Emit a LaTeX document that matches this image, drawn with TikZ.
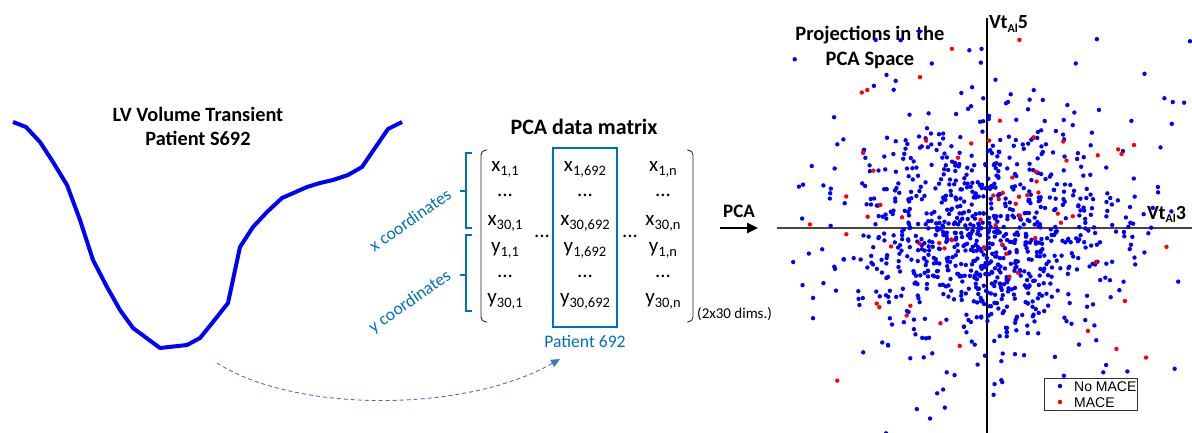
\documentclass[tikz,border=0pt]{standalone}
\usepackage{fontspec}
\setmainfont{Carlito}
\newfontfamily\legfont{Liberation Sans}
\usetikzlibrary{arrows.meta}
\definecolor{curveblue}{RGB}{0,0,255}
\definecolor{mblue}{RGB}{0,112,192}
\definecolor{dashblue}{RGB}{68,114,196}
\definecolor{axgray}{RGB}{70,70,70}
\newcommand{\sbs}[1]{\raisebox{-0.4ex}{\fontsize{14.5}{14.5}\selectfont #1}}
\newcommand{\asub}[1]{\raisebox{-0.4ex}{\fontsize{12}{12}\selectfont #1}}
\tikzset{
  entry/.style={inner sep=0pt, font=\fontsize{21}{21}\selectfont},
  titletext/.style={align=center, font=\bfseries\fontsize{20.3}{24}\selectfont},
  bluelabel/.style={text=mblue, font=\fontsize{17.6}{17.6}\selectfont, inner sep=0pt},
  paren/.style={draw=black!85, line width=0.9pt, rounded corners=5pt},
  brace/.style={draw=mblue, line width=1.1pt},
  bdot/.style={fill=curveblue},
  rdot/.style={fill=red},
  legtext/.style={anchor=west, inner sep=0pt, font=\legfont\fontsize{14}{14}\selectfont},
}
\begin{document}
\begin{tikzpicture}[x=1pt,y=-1pt]
\useasboundingbox (0,0) rectangle (1192,433);
% ---- LV curve
\draw[curveblue, line width=4pt, line join=round]
 (13,122) -- (26,127) -- (40,142) -- (53,162) -- (67,185) -- (80,220) -- (93,260)
 -- (107,287) -- (120,310) -- (133,328) -- (160,348) -- (187,345) -- (200,338)
 -- (213,322) -- (228,303) -- (240,247) -- (253,227) -- (267,212) -- (282,198)
 -- (307,187) -- (320,183) -- (333,180) -- (348,175) -- (362,167) -- (375,148)
 -- (388,129) -- (402,122);
\node[titletext] (lvtitle) at (198,126) {LV Volume Transient\\Patient S692};
% ---- matrix
\node[titletext, font=\bfseries\fontsize{22}{22}\selectfont] (mtitle) at (584,127) {PCA data matrix};
\draw[paren] (487,150) -- (481,150) -- (481,322) -- (487,322);
\draw[paren] (687,150) -- (693,150) -- (693,322) -- (687,322);
\node[entry] (a1) at (505,169) {x\sbs{1,1}};
\node[entry] (a2) at (505,195) {...};
\node[entry] (a3) at (505,223) {x\sbs{30,1}};
\node[entry] (a4) at (505,250) {y\sbs{1,1}};
\node[entry] (a5) at (505,276) {...};
\node[entry] (a6) at (505,301) {y\sbs{30,1}};
\node[entry] (b1) at (585,169) {x\sbs{1,692}};
\node[entry] (b2) at (585,195) {...};
\node[entry] (b3) at (585,223) {x\sbs{30,692}};
\node[entry] (b4) at (585,250) {y\sbs{1,692}};
\node[entry] (b5) at (585,276) {...};
\node[entry] (b6) at (585,301) {y\sbs{30,692}};
\node[entry] (c1) at (663,169) {x\sbs{1,n}};
\node[entry] (c2) at (663,195) {...};
\node[entry] (c3) at (663,223) {x\sbs{30,n}};
\node[entry] (c4) at (663,250) {y\sbs{1,n}};
\node[entry] (c5) at (663,276) {...};
\node[entry] (c6) at (663,301) {y\sbs{30,n}};
\node[entry] (d1) at (542,236) {...};
\node[entry] (d2) at (630,236) {...};
\draw[mblue, line width=2.2pt] (553,148) rectangle (617,327);
\node[bluelabel] (pat) at (585,341) {Patient 692};
\node[inner sep=0pt, anchor=west, font=\fontsize{15}{15}\selectfont] (dims) at (697,314) {(2x30 dims.)};
% braces
\draw[brace] (472,153) -- (466,153) -- (466,228) -- (472,228);
\draw[brace] (466,191) -- (460,191);
\draw[brace] (472,235) -- (466,235) -- (466,311) -- (472,311);
\draw[brace] (466,275) -- (460,275);
\node[bluelabel, rotate=35] (xc) at (410,220) {x coordinates};
\node[bluelabel, rotate=35] (yc) at (410,302) {y coordinates};
% dashed arrow
\coordinate (dstart) at (217,363);
\coordinate (dend) at (560,359);
\draw[dashblue, line width=0.9pt, dash pattern=on 4pt off 3pt, -{Triangle[length=9pt,width=8pt]}]
  (dstart) .. controls (295,413) and (465,413) .. (dend);
% PCA arrow
\node[font=\bfseries\fontsize{19}{19}\selectfont, inner sep=0pt] (pcal) at (739,211) {PCA};
\coordinate (pa1) at (720,228);
\coordinate (pa2) at (758,228);
\draw[line width=2.6pt, -{Triangle[length=11pt,width=10pt]}] (pa1) -- (pa2);
% ---- scatter
\coordinate (axl) at (777,228);
\coordinate (axr) at (1192,228);
\coordinate (axt) at (987,18);
\coordinate (axb) at (987,433);
\draw[axgray, line width=1.3pt] (axl) -- (axr);
\draw[black, line width=1.3pt] (axt) -- (axb);
\node[titletext, font=\bfseries\fontsize{20.5}{25}\selectfont] (ptitle) at (870,47) {Projections in the\\PCA Space};
\node[anchor=base west, inner sep=0pt, font=\bfseries\fontsize{20}{20}\selectfont] (vt5) at (989,29) {Vt\asub{Al}5};
\node[anchor=base west, inner sep=0pt, font=\bfseries\fontsize{20}{20}\selectfont] (vt3) at (1147,219) {Vt\asub{Al}3};
\begin{scope}
\clip (790,15) rectangle (1192,433);
\pgfmathsetseed{11}
\foreach \i in {1,...,820}{
  \pgfmathsetmacro\u{rnd}\pgfmathsetmacro\v{rnd}
  \pgfmathsetmacro\r{sqrt(-2*ln(1.00001-\u))}
  \pgfmathsetmacro\px{987+66*\r*cos(360*\v)}
  \pgfmathsetmacro\py{232+56*\r*sin(360*\v)}
  \fill[bdot] (\px,\py) circle (2.2pt);
}
\foreach \i in {1,...,170}{
  \pgfmathsetmacro\u{rnd}\pgfmathsetmacro\v{rnd}
  \pgfmathsetmacro\r{sqrt(-2*ln(1.00001-\u))}
  \pgfmathsetmacro\px{987+115*\r*cos(360*\v)}
  \pgfmathsetmacro\py{225+105*\r*sin(360*\v)}
  \fill[bdot] (\px,\py) circle (2.2pt);
}
\foreach \i in {1,...,65}{
  \pgfmathsetmacro\u{rnd}\pgfmathsetmacro\v{rnd}
  \pgfmathsetmacro\r{sqrt(-2*ln(1.00001-\u))}
  \pgfmathsetmacro\px{1005+80*\r*cos(360*\v)}
  \pgfmathsetmacro\py{205+75*\r*sin(360*\v)}
  \fill[rdot] (\px,\py) circle (2.2pt);
}
\end{scope}
% legend
\node[draw=black!80, fill=white, line width=0.8pt, minimum width=93pt, minimum height=32pt, inner sep=0pt] (leg) at (1090.5,394) {};
\fill[bdot] (1060,386) circle (2.2pt);
\fill[rdot] (1060,402) circle (2.2pt);
\node[legtext] (l1) at (1074,386.5) {No MACE};
\node[legtext] (l2) at (1074,402.5) {MACE};
\end{tikzpicture}
\end{document}
